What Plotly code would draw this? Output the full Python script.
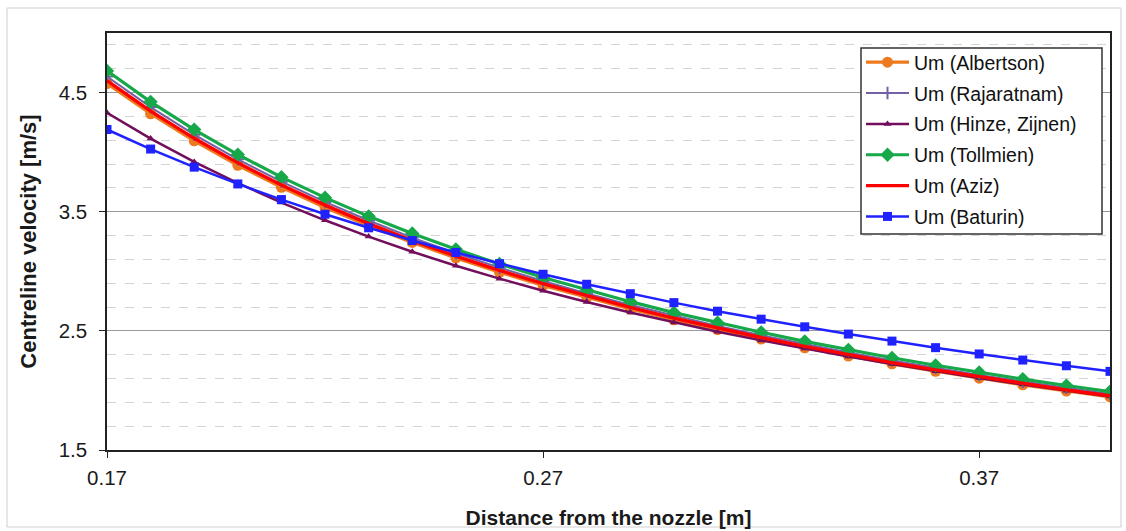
import plotly.graph_objects as go

x_dist = [0.17, 0.18, 0.19, 0.20, 0.21, 0.22, 0.23, 0.24, 0.25, 0.26, 0.27, 0.28,
          0.29, 0.30, 0.31, 0.32, 0.33, 0.34, 0.35, 0.36, 0.37, 0.38, 0.39, 0.40]

um_albertson = [4.576, 4.322, 4.095, 3.890, 3.705, 3.536, 3.383, 3.242, 3.112, 2.992, 2.881, 2.779,
                2.683, 2.593, 2.510, 2.431, 2.358, 2.288, 2.223, 2.161, 2.103, 2.047, 1.995, 1.945]
um_rajaratnam = [4.635, 4.378, 4.147, 3.940, 3.752, 3.582, 3.426, 3.283, 3.152, 3.031, 2.919, 2.814,
                 2.717, 2.627, 2.542, 2.463, 2.388, 2.318, 2.251, 2.189, 2.130, 2.074, 2.021, 1.970]
um_hinze = [4.330, 4.114, 3.918, 3.740, 3.577, 3.428, 3.291, 3.164, 3.047, 2.938, 2.837, 2.742,
            2.654, 2.571, 2.493, 2.420, 2.351, 2.285, 2.222, 2.162, 2.105, 2.050, 1.998, 1.948]
um_tollmien = [4.682, 4.422, 4.189, 3.980, 3.790, 3.618, 3.461, 3.317, 3.184, 3.062, 2.948, 2.843,
               2.745, 2.653, 2.568, 2.488, 2.412, 2.341, 2.274, 2.211, 2.151, 2.095, 2.041, 1.990]
um_aziz = [4.600, 4.344, 4.116, 3.910, 3.724, 3.555, 3.400, 3.258, 3.128, 3.008, 2.896, 2.793,
           2.697, 2.607, 2.523, 2.444, 2.370, 2.300, 2.234, 2.172, 2.114, 2.058, 2.005, 1.955]
um_baturin = [4.190, 4.026, 3.874, 3.733, 3.602, 3.479, 3.365, 3.258, 3.158, 3.064, 2.975, 2.891,
              2.812, 2.737, 2.665, 2.598, 2.534, 2.473, 2.414, 2.359, 2.306, 2.255, 2.207, 2.160]

series = [
    ("Um (Albertson)", um_albertson, "#EE7A1F", 3.2, dict(symbol="circle", size=11)),
    ("Um (Rajaratnam)", um_rajaratnam, "#7460A6", 2, dict(symbol="cross-thin", size=9, line=dict(width=2, color="#7460A6"))),
    ("Um (Hinze, Zijnen)", um_hinze, "#720E5C", 2.5, dict(symbol="triangle-up", size=7)),
    ("Um (Tollmien)", um_tollmien, "#17A84A", 3.2, dict(symbol="diamond", size=11)),
    ("Um (Aziz)", um_aziz, "#FF0000", 3.4, None),
    ("Um (Baturin)", um_baturin, "#1F22FF", 2.5, dict(symbol="square", size=9)),
]

fig = go.Figure()
for i, (name, ys, color, w, mk) in enumerate(series):
    if mk is None:
        fig.add_trace(go.Scatter(x=x_dist, y=ys, name=name, mode="lines",
                                 line=dict(color=color, width=w), legendgroup=f"g{i}"))
    else:
        mk = dict(mk)
        mk.setdefault("color", color)
        fig.add_trace(go.Scatter(x=x_dist, y=ys, name=name, mode="lines+markers",
                                 line=dict(color=color, width=w), marker=mk, legendgroup=f"g{i}"))

L, R, T, B = 107, 16, 33, 81
W, H = 1126, 531
pw, ph = W - L - R, H - T - B

fig.update_layout(
    width=W, height=H,
    margin=dict(l=L, r=R, t=T, b=B, autoexpand=False),
    paper_bgcolor="white", plot_bgcolor="white",
    font=dict(family="Liberation Sans, Arial, sans-serif", size=19, color="#1a1a1a"),
    showlegend=True,
    legend=dict(x=(861 - L) / pw, y=1 - (43 - T) / ph, xanchor="left", yanchor="top",
                bgcolor="rgba(0,0,0,0)", borderwidth=0,
                font=dict(size=19.5, color="#111"), tracegroupgap=2.5, itemwidth=43),
    xaxis=dict(range=[0.17, 0.40], tick0=0.17, dtick=0.1, tickformat=".2f",
               showgrid=False, zeroline=False, showline=True, linecolor="#222", linewidth=1.5,
               mirror=True, ticks="outside", ticklen=6, tickcolor="#222",
               tickfont=dict(size=20.5), ticklabelstandoff=3, automargin=False,
               title=dict(text="<b>Distance from the nozzle [m]</b>", font=dict(size=21), standoff=22)),
    yaxis=dict(range=[1.5, 5.0], tick0=1.5, dtick=1.0, tickformat=".1f",
               showgrid=True, gridcolor="#999", gridwidth=1.2, zeroline=False,
               showline=True, linecolor="#222", linewidth=1.5, mirror=True,
               ticks="outside", ticklen=6, tickcolor="#222",
               tickfont=dict(size=20.5), ticklabelstandoff=8, automargin=False,
               minor=dict(tick0=1.5, dtick=0.2, showgrid=True, gridcolor="#d4d4d4",
                          griddash="dash", gridwidth=1),
               title=dict(text="<b>Centreline velocity [m/s]</b>", font=dict(size=22), standoff=16)),
)

# outer chart border
fig.add_shape(type="rect", xref="paper", yref="paper",
              x0=(7 - L) / pw, x1=(W - 5 - L) / pw,
              y0=-(H - 4 - T - ph) / ph, y1=1 + (T - 8) / ph,
              line=dict(color="#cfcfcf", width=1), fillcolor="rgba(0,0,0,0)", layer="below")
# legend box
fig.add_shape(type="rect", xref="paper", yref="paper",
              x0=(861 - L) / pw, x1=(1102 - L) / pw,
              y0=1 - (234 - T) / ph, y1=1 - (48 - T) / ph,
              line=dict(color="#333", width=1.5), fillcolor="white", layer="above")

fig.write_html("out.html", config={"displayModeBar": False},
               post_script="document.body.style.margin='0px';document.body.style.overflow='hidden';")
